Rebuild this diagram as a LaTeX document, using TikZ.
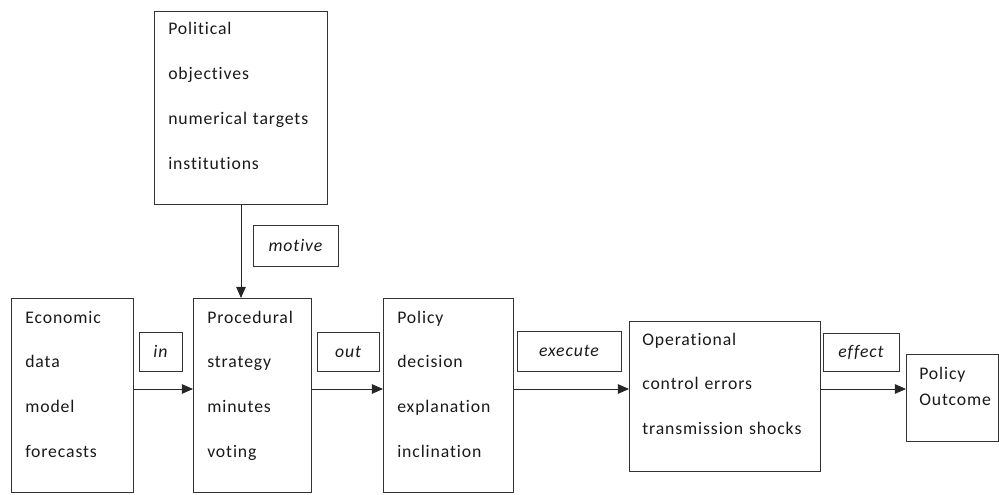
\documentclass[tikz,border=0pt]{standalone}
\usepackage{fontspec}
\setmainfont{Carlito}[LetterSpace=5, Ligatures={NoCommon}]
\usetikzlibrary{arrows.meta}

\tikzset{
  block/.style={draw=black!80, line width=0.7pt, anchor=north west, inner sep=0pt},
  lines/.style={anchor=base west, align=left, inner sep=0pt, text width=#1,
    font=\fontsize{12.6}{32}\selectfont, text=black!90},
  tag/.style={draw=black!80, line width=0.7pt, inner sep=0pt, text=black!90,
    font=\fontsize{12.6}{15}\selectfont\itshape},
  flow/.style={->, line width=0.7pt, draw=black!85},
}

\begin{document}
\begin{tikzpicture}[>={Triangle[length=2.8mm, width=2.4mm]}]
\useasboundingbox (0,0) rectangle (24.975,12.35);
\coordinate (lvl) at (0,2.625);
% Political
\node[block, minimum width=4.325cm, minimum height=4.825cm] (pol) at (3.85,12.075) {};
\node[lines=4cm] (poltxt) at (4.2,11.475) {Political\\objectives\\numerical targets\\institutions};
\node[tag, minimum width=2.125cm, minimum height=1.025cm] (motive) at (7.3875,6.2125) {motive};
% Economic
\node[block, minimum width=3.05cm, minimum height=4.85cm] (econ) at (0.275,4.9) {};
\node[lines=2.8cm] (econtxt) at (0.625,4.275) {Economic\\data\\model\\forecasts};
\node[tag, minimum width=1.075cm, minimum height=0.975cm] (in) at (4.0125,3.5625) {in};
% Procedural
\node[block, minimum width=2.95cm, minimum height=4.85cm] (proc) at (4.825,4.9) {};
\node[lines=2.7cm] (proctxt) at (5.175,4.275) {Procedural\\strategy\\minutes\\voting};
\node[tag, minimum width=1.55cm, minimum height=0.975cm] (out) at (8.7,3.5625) {out};
% Policy
\node[block, minimum width=3.25cm, minimum height=4.85cm] (pold) at (9.575,4.9) {};
\node[lines=3cm] (poldtxt) at (9.925,4.275) {Policy\\decision\\explanation\\inclination};
\node[tag, minimum width=2.6cm, minimum height=1cm] (execute) at (14.225,3.575) {execute};
% Operational
\node[block, minimum width=4.775cm, minimum height=3.75cm] (oper) at (15.725,4.325) {};
\node[lines=4.6cm] (opertxt) at (16.05,3.725) {Operational\\control errors\\transmission shocks};
\node[tag, minimum width=1.9cm, minimum height=0.95cm] (effect) at (21.525,3.55) {effect};
% Outcome
\node[block, minimum width=2.3cm, minimum height=2.175cm] (outc) at (22.65,3.5) {};
\node[lines=2cm, font=\fontsize{12.6}{18.5}\selectfont] (outctxt) at (22.975,2.875) {Policy\\Outcome};
% arrows
\draw[flow] (pol.south) -- (pol.south |- proc.north);
\draw[flow] (econ.east |- lvl) -- (proc.west |- lvl);
\draw[flow] (proc.east |- lvl) -- (pold.west |- lvl);
\draw[flow] (pold.east |- lvl) -- (oper.west |- lvl);
\draw[flow] (oper.east |- lvl) -- (outc.west |- lvl);
\end{tikzpicture}
\end{document}
